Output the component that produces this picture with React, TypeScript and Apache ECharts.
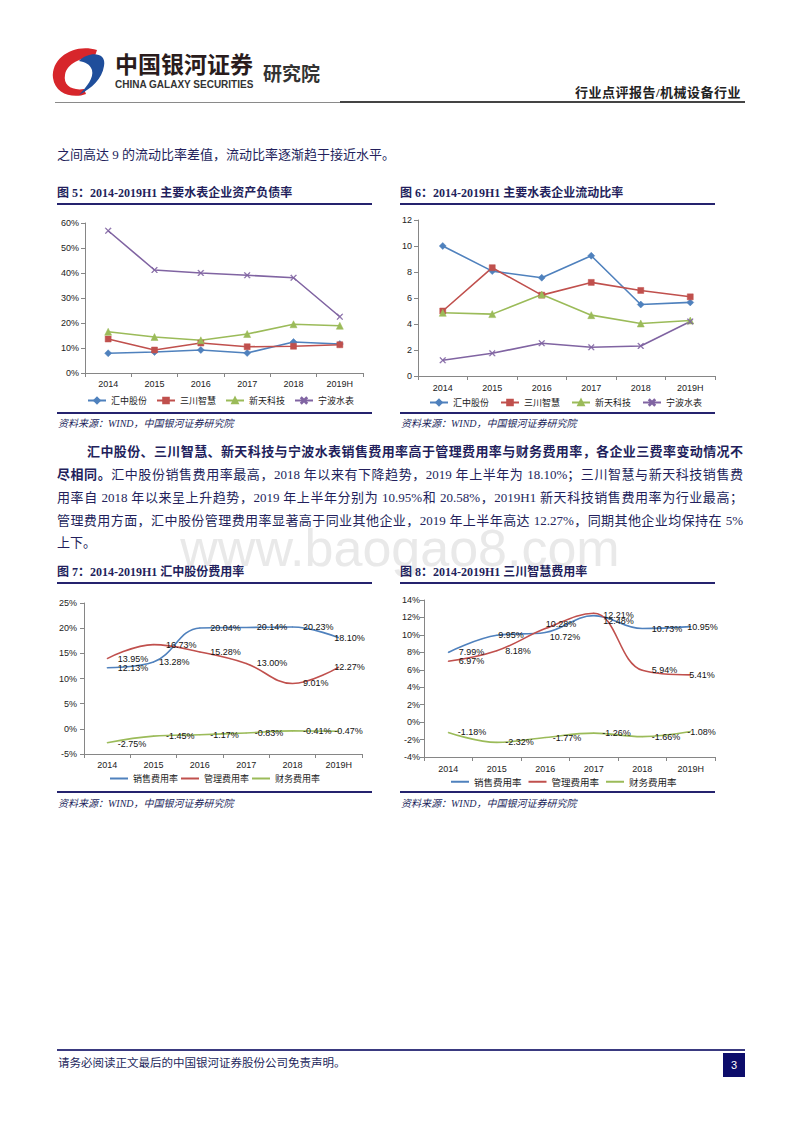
import React, { useEffect, useRef } from 'react';
import * as echarts from 'echarts';

// ---------------- data ----------------
const years = ['2014', '2015', '2016', '2017', '2018', '2019H'];
const companyNames = ['汇中股份', '三川智慧', '新天科技', '宁波水表'];

// Fig 5: asset-liability ratio (%)
const debtHuizhong = [7.9, 8.4, 9.2, 8.0, 12.4, 11.6];
const debtSanchuan = [13.6, 9.2, 12.0, 10.5, 10.7, 11.3];
const debtXintian = [16.5, 14.4, 13.1, 15.6, 19.5, 18.9];
const debtNingbo = [56.9, 41.2, 40.0, 39.1, 38.1, 22.5];

// Fig 6: current ratio
const ratioHuizhong = [10.0, 8.07, 7.56, 9.25, 5.5, 5.66];
const ratioSanchuan = [5.0, 8.33, 6.22, 7.2, 6.58, 6.09];
const ratioXintian = [4.86, 4.76, 6.27, 4.68, 4.04, 4.27];
const ratioNingbo = [1.21, 1.75, 2.52, 2.21, 2.31, 4.19];

// Fig 7 / 8: expense ratios (%)
const feeNames = ['销售费用率', '管理费用率', '财务费用率'];
const hzSales = [12.13, 13.28, 20.04, 20.14, 20.23, 18.1];
const hzAdmin = [13.95, 16.73, 15.28, 13.0, 9.01, 12.27];
const hzFinance = [-2.75, -1.45, -1.17, -0.83, -0.41, -0.47];
const scSales = [7.99, 9.95, 10.28, 12.21, 10.73, 10.95];
const scAdmin = [6.97, 8.18, 10.72, 12.48, 5.94, 5.41];
const scFinance = [-1.18, -2.32, -1.77, -1.26, -1.66, -1.08];

// ---------------- styles ----------------
const COLORS = ['#4F81BD', '#C0504D', '#9BBB59', '#8064A2'];
const CHART_FONT = "'Liberation Sans', Arial, 'Noto Sans CJK SC', sans-serif";
const CJK_FONT = "'Noto Sans CJK SC', sans-serif";
const PAGE_FONT = "'Liberation Serif', 'Noto Sans CJK SC', serif";
const NAVY = '#231f5c';
const RULE = '#25236e';
const AXIS = '#868686';
const XMARK = 'path://M1,0 L5,4 L9,0 L10,1 L6,5 L10,9 L9,10 L5,6 L1,10 L0,9 L4,5 L0,1 Z';

// label offsets (px) for the expense charts, per point
const offsets7 = [
  [[0, 0], [-5, 0], [0, 0], [0, 0], [0, 0], [-15, 0]],
  [[0, 0], [2, 0], [0, 0], [0, 0], [0, 0], [-15, 0]],
  [[0, 1], [2, 0], [0, 0], [-2, 0], [0, 0], [-15, 0]],
];
const offsets8 = [
  [[1, 0], [-8, 0], [-9, -8], [0, -1], [0, 0], [-13, 0]],
  [[1, 0], [-1, 0], [-5, 8], [0, 8], [0, 0], [-11, 0]],
  [[0, 0], [-1, 0], [-2, 0], [-1, 0], [0, 0], [-13, 0]],
];

function catAxis(margin: number) {
  return {
    type: 'category',
    data: years,
    boundaryGap: true,
    axisLine: { show: true, onZero: false, lineStyle: { color: AXIS, width: 1 } },
    axisTick: { show: true, length: 4, lineStyle: { color: AXIS } },
    axisLabel: { color: '#222', fontSize: 9, fontFamily: CHART_FONT, margin },
    splitLine: { show: false },
  };
}

function valAxis(min: number, max: number, interval: number, pct: boolean, margin: number) {
  return {
    type: 'value',
    min,
    max,
    interval,
    axisLine: { show: true, lineStyle: { color: AXIS, width: 1 } },
    axisTick: { show: true, length: 4, lineStyle: { color: AXIS } },
    axisLabel: {
      color: '#222',
      fontSize: 9,
      fontFamily: CHART_FONT,
      margin,
      formatter: pct ? '{value}%' : '{value}',
    },
    splitLine: { show: false },
  };
}

function markerSeries(name: string, data: number[], color: string, symbol: string, size: number) {
  return {
    type: 'line',
    name,
    data,
    symbol,
    symbolSize: size,
    showSymbol: true,
    lineStyle: { width: 1.6, color },
    itemStyle: { color, borderColor: color, borderWidth: 0.5 },
  };
}

function feeSeries(name: string, values: number[], color: string, offs: number[][], distance: number) {
  return {
    type: 'line',
    name,
    smooth: 0.4,
    symbol: 'circle',
    symbolSize: 1,
    showSymbol: true,
    lineStyle: { width: 1.6, color },
    itemStyle: { color },
    label: {
      show: true,
      position: 'right',
      distance,
      fontSize: 9,
      color: '#111',
      fontFamily: CHART_FONT,
      formatter: (p: any) => Number(p.value).toFixed(2) + '%',
    },
    data: values.map((v, i) => ({ value: v, label: { offset: offs[i] } })),
  };
}

const option5 = {
  animation: false,
  grid: { left: 30, top: 11, width: 278, height: 150, containLabel: false, outerBoundsMode: 'none' },
  xAxis: catAxis(6),
  yAxis: valAxis(0, 60, 10, true, 6),
  legend: {
    left: 27,
    top: 179,
    itemWidth: 18,
    itemHeight: 7,
    itemGap: 9,
    textStyle: { fontSize: 9, color: '#222', fontFamily: CJK_FONT },
    data: companyNames,
  },
  series: [
    markerSeries(companyNames[0], debtHuizhong, COLORS[0], 'diamond', 7),
    markerSeries(companyNames[1], debtSanchuan, COLORS[1], 'rect', 6),
    markerSeries(companyNames[2], debtXintian, COLORS[2], 'triangle', 7),
    markerSeries(companyNames[3], debtNingbo, COLORS[3], XMARK, 6),
  ],
};

const option6 = {
  animation: false,
  grid: { left: 18, top: 8, width: 297, height: 156, containLabel: false, outerBoundsMode: 'none' },
  xAxis: catAxis(7),
  yAxis: valAxis(0, 12, 2, false, 6),
  legend: {
    left: 24,
    top: 181,
    itemWidth: 18,
    itemHeight: 7,
    itemGap: 11,
    textStyle: { fontSize: 9, color: '#222', fontFamily: CJK_FONT },
    data: companyNames,
  },
  series: [
    markerSeries(companyNames[0], ratioHuizhong, COLORS[0], 'diamond', 7),
    markerSeries(companyNames[1], ratioSanchuan, COLORS[1], 'rect', 6),
    markerSeries(companyNames[2], ratioXintian, COLORS[2], 'triangle', 7),
    markerSeries(companyNames[3], ratioNingbo, COLORS[3], XMARK, 6),
  ],
};

const option7 = {
  animation: false,
  grid: { left: 29, top: 13, width: 278, height: 151, containLabel: false, outerBoundsMode: 'none' },
  xAxis: catAxis(6),
  yAxis: valAxis(-5, 25, 5, true, 7),
  legend: {
    left: 50,
    top: 179,
    icon: 'rect',
    itemWidth: 18,
    itemHeight: 2,
    itemGap: 3,
    textStyle: { fontSize: 9, color: '#222', fontFamily: CJK_FONT },
    data: feeNames,
  },
  series: [
    feeSeries(feeNames[0], hzSales, COLORS[0], offsets7[0], 10),
    feeSeries(feeNames[1], hzAdmin, COLORS[1], offsets7[1], 10),
    feeSeries(feeNames[2], hzFinance, COLORS[2], offsets7[2], 10),
  ],
};

const option8 = {
  animation: false,
  grid: { left: 24, top: 10, width: 291, height: 157, containLabel: false, outerBoundsMode: 'none' },
  xAxis: catAxis(7),
  yAxis: valAxis(-4, 14, 2, true, 4),
  legend: {
    left: 46,
    top: 182,
    icon: 'rect',
    itemWidth: 18,
    itemHeight: 2,
    itemGap: 7,
    textStyle: { fontSize: 9.5, color: '#222', fontFamily: CJK_FONT },
    data: feeNames,
  },
  series: [
    feeSeries(feeNames[0], scSales, COLORS[0], offsets8[0], 9),
    feeSeries(feeNames[1], scAdmin, COLORS[1], offsets8[1], 9),
    feeSeries(feeNames[2], scFinance, COLORS[2], offsets8[2], 9),
  ],
};

// ---------------- components ----------------
function Chart({ option, left, top, width, height }: any) {
  const ref = useRef<HTMLDivElement>(null);
  useEffect(() => {
    if (!ref.current) return;
    const chart = echarts.init(ref.current, null, { renderer: 'svg' });
    chart.setOption(option);
    return () => chart.dispose();
  }, [option]);
  return <div ref={ref} style={{ position: 'absolute', left, top, width, height }} />;
}

function Txt({ x, y, size, children, style }: any) {
  const lh = Math.round(size * 1.4);
  return (
    <div
      style={{
        position: 'absolute',
        left: x,
        top: y - lh / 2,
        fontSize: size,
        lineHeight: lh + 'px',
        whiteSpace: 'nowrap',
        fontFamily: PAGE_FONT,
        color: NAVY,
        ...style,
      }}
    >
      {children}
    </div>
  );
}

function Rule({ x1, x2, y, h, color }: any) {
  return <div style={{ position: 'absolute', left: x1, top: y - h / 2, width: x2 - x1, height: h, background: color }} />;
}

function ParaLine({ y, indent, last, children }: any) {
  return (
    <div
      style={{
        position: 'absolute',
        left: 57 + (indent || 0),
        top: y - 10,
        width: 686 - (indent || 0),
        height: 20,
        lineHeight: '20px',
        fontSize: 13,
        fontFamily: PAGE_FONT,
        color: NAVY,
        textAlign: 'justify',
        textAlignLast: last ? 'left' : 'justify',
        whiteSpace: 'nowrap',
      }}
    >
      {children}
    </div>
  );
}

function Logo() {
  return (
    <svg style={{ position: 'absolute', left: 0, top: 0 }} width={120} height={110}>
      <path
        d="M97 50 C75 43, 51 57, 53 78 C55 94, 73 99, 86 94 L84 89 C72 91, 63 85, 65 75 C67 63, 81 58, 95 56 Z"
        fill="#d7262b"
      />
      <path
        d="M79 61 C89 51, 107 52, 104 66 C102 79, 92 88, 79 95 C87 86, 94 78, 92 70 C90 64, 85 62, 79 61 Z"
        fill="#1f4e9b"
      />
    </svg>
  );
}

export default function App() {
  const bold = { fontWeight: 700 };
  return (
    <div style={{ position: 'absolute', left: 0, top: 0, width: 800, height: 1132, background: '#fff', overflow: 'hidden' }}>
      {/* watermark */}
      <div
        style={{
          position: 'absolute',
          left: 0,
          width: 800,
          top: 518,
          textAlign: 'center',
          fontSize: 52,
          lineHeight: '60px',
          color: '#e9e9e9',
          fontFamily: "'Liberation Sans', Arial, sans-serif",
        }}
      >
        www.baogao8.com
      </div>

      {/* header */}
      <Logo />
      <Txt x={115} y={63} size={23} style={{ fontFamily: CJK_FONT, fontWeight: 700, color: '#2a1c1c' }}>
        中国银河证券
      </Txt>
      <Txt x={115} y={85} size={10} style={{ fontFamily: "'Liberation Sans', Arial, sans-serif", fontWeight: 700, color: '#333' }}>
        CHINA GALAXY SECURITIES
      </Txt>
      <Txt x={263} y={72} size={19} style={{ fontFamily: CJK_FONT, fontWeight: 700, color: '#333' }}>
        研究院
      </Txt>
      <Txt x={575} y={93} size={13} style={{ ...bold, color: '#222', letterSpacing: 0.5 }}>
        行业点评报告/机械设备行业
      </Txt>
      <Rule x1={55} x2={340} y={102.5} h={1} color="#8a8a8a" />
      <Rule x1={340} x2={745} y={102} h={2} color="#444" />

      <Txt x={57} y={155} size={13}>之间高达 9 的流动比率差值，流动比率逐渐趋于接近水平。</Txt>

      {/* figure 5 & 6 */}
      <Txt x={57} y={193} size={12} style={bold}>图 5：2014-2019H1 主要水表企业资产负债率</Txt>
      <Txt x={400} y={193} size={12} style={bold}>图 6：2014-2019H1 主要水表企业流动比率</Txt>
      <Rule x1={57} x2={372} y={204} h={1.5} color={RULE} />
      <Rule x1={400} x2={715} y={204} h={1.5} color={RULE} />
      <Chart option={option5} left={55} top={212} width={320} height={199} />
      <Chart option={option6} left={400} top={212} width={320} height={199} />
      <Rule x1={57} x2={372} y={413} h={1.5} color={RULE} />
      <Rule x1={400} x2={715} y={413} h={1.5} color={RULE} />
      <Txt x={58} y={424} size={10} style={{ fontStyle: 'italic' }}>资料来源：WIND，中国银河证券研究院</Txt>
      <Txt x={401} y={424} size={10} style={{ fontStyle: 'italic' }}>资料来源：WIND，中国银河证券研究院</Txt>

      {/* paragraph */}
      <ParaLine y={452} indent={30}>
        <b>汇中股份、三川智慧、新天科技与宁波水表销售费用率高于管理费用率与财务费用率，各企业三费率变动情况不</b>
      </ParaLine>
      <ParaLine y={475}>
        <b>尽相同。</b>汇中股份销售费用率最高，2018 年以来有下降趋势，2019 年上半年为 18.10%；三川智慧与新天科技销售费
      </ParaLine>
      <ParaLine y={498}>
        用率自 2018 年以来呈上升趋势，2019 年上半年分别为 10.95%和 20.58%，2019H1 新天科技销售费用率为行业最高；
      </ParaLine>
      <ParaLine y={521}>
        管理费用方面，汇中股份管理费用率显著高于同业其他企业，2019 年上半年高达 12.27%，同期其他企业均保持在 5%
      </ParaLine>
      <ParaLine y={543} last>
        上下。
      </ParaLine>

      {/* figure 7 & 8 */}
      <Txt x={57} y={572} size={12} style={bold}>图 7：2014-2019H1 汇中股份费用率</Txt>
      <Txt x={400} y={572} size={12} style={bold}>图 8：2014-2019H1 三川智慧费用率</Txt>
      <Rule x1={57} x2={372} y={583} h={1.5} color={RULE} />
      <Rule x1={400} x2={715} y={583} h={1.5} color={RULE} />
      <Chart option={option7} left={55} top={590} width={320} height={200} />
      <Chart option={option8} left={400} top={590} width={320} height={200} />
      <Rule x1={57} x2={372} y={792} h={1.5} color={RULE} />
      <Rule x1={400} x2={715} y={792} h={1.5} color={RULE} />
      <Txt x={58} y={804} size={10} style={{ fontStyle: 'italic' }}>资料来源：WIND，中国银河证券研究院</Txt>
      <Txt x={401} y={804} size={10} style={{ fontStyle: 'italic' }}>资料来源：WIND，中国银河证券研究院</Txt>

      {/* footer */}
      <Rule x1={57} x2={745} y={1050} h={2} color="#3a3a80" />
      <Txt x={58} y={1063} size={11.5}>请务必阅读正文最后的中国银河证券股份公司免责声明。</Txt>
      <div
        style={{
          position: 'absolute',
          left: 723,
          top: 1053,
          width: 22,
          height: 24,
          background: '#0d0d6b',
          color: '#fff',
          fontSize: 11,
          lineHeight: '24px',
          textAlign: 'center',
          fontFamily: "'Liberation Sans', Arial, sans-serif",
        }}
      >
        3
      </div>
    </div>
  );
}
